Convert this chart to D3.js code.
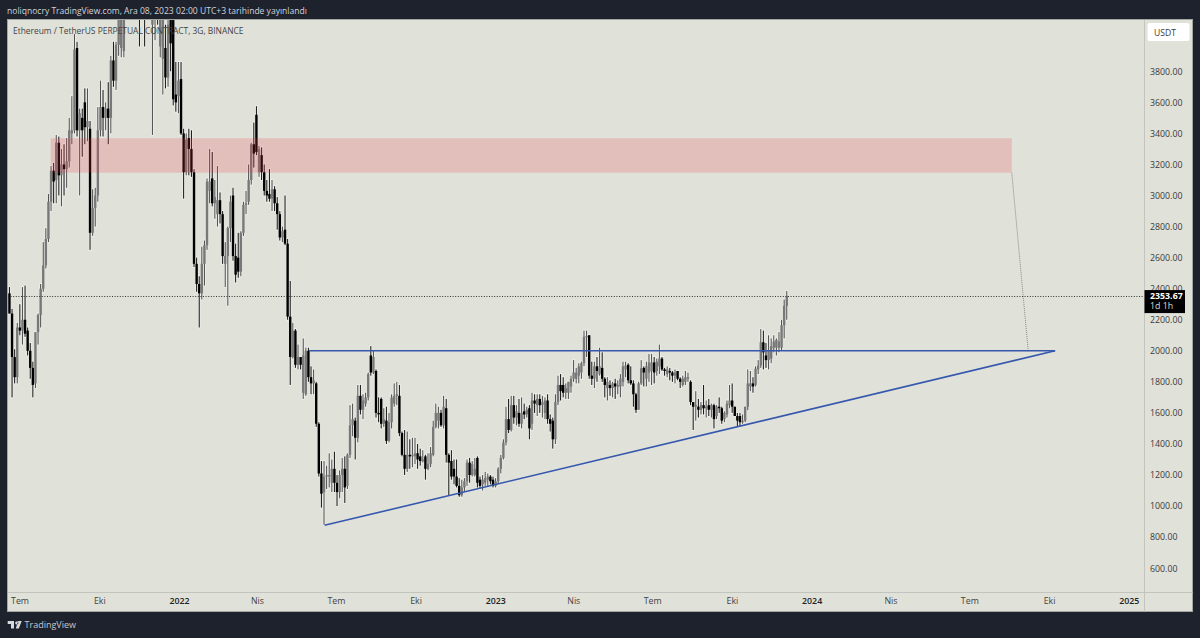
<!DOCTYPE html>
<html><head><meta charset="utf-8">
<script src="https://cdn.jsdelivr.net/npm/d3@7"></script>
<style>html,body{margin:0;padding:0;background:#1e222d;overflow:hidden}svg{display:block}text{font-family:"Open Sans",sans-serif}</style>
</head><body><svg id="c" width="1200" height="638"></svg>
<script>
const headerText = "noliqnocry TradingView.com, Ara 08, 2023 02:00 UTC+3 tarihinde yayınlandı";
const titleText = "Ethereum / TetherUS PERPETUAL CONTRACT, 3G, BINANCE";
const firstBar = "2021-06-19";
const barDays = 3;
const opens = [
2370,2240,1960,1830,2150,2130,2200,2130,2000,1890,
1790,2120,2230,2400,2550,2720,2960,3160,3100,3340,
3130,3200,3170,3220,3400,3420,3950,3420,3500,3600,
3440,3430,2760,2920,3000,3420,3570,3500,3560,3500,
3870,3740,3970,3950,3930,4300,4500,4600,4730,4600,
4400,4250,4550,4400,4500,4100,4200,4300,3960,3880,
3950,3760,4150,4130,3650,3640,3750,3400,3150,3370,
3300,3150,2560,2430,2370,2560,2680,3030,3110,2950,
2880,2970,2880,2560,2610,2790,3000,2610,2600,2510,
2760,2940,2960,3100,3330,3520,3150,3260,3150,3030,
3010,2980,3040,2950,2880,2730,2780,2690,2220,1960,
2130,1910,1960,1730,1720,2000,1830,1790,1790,1530,
1210,1090,1190,1190,1150,1240,1150,1090,1200,1240,
1130,1330,1520,1550,1440,1710,1620,1660,1700,1970,
1860,1870,1600,1690,1530,1550,1420,1540,1660,1710,
1710,1470,1330,1240,1330,1320,1320,1340,1320,1290,
1320,1240,1270,1330,1510,1550,1600,1520,1630,1330,
1290,1240,1190,1130,1070,1120,1160,1280,1200,1200,
1310,1170,1140,1150,1170,1190,1170,1130,1160,1240,
1310,1410,1560,1490,1650,1570,1600,1530,1610,1590,
1630,1530,1680,1650,1690,1650,1600,1680,1560,1550,
1430,1670,1780,1780,1730,1730,1770,1820,1820,1840,1860,
1920,2090,2100,1840,1820,1900,1850,1890,1820,1760,
1780,1760,1790,1770,1770,1800,1880,1910,1810,1790,
1720,1620,1790,1890,1820,1860,1870,1925,1870,1900,
1950,1880,1850,1870,1860,1840,1870,1820,1780,1800,
1820,1800,1670,1640,1640,1620,1650,1630,1650,1620,
1650,1580,1640,1630,1560,1590,1650,1680,1640,1580,
1580,1540,1550,1640,1770,1790,1780,1880,1905,2055,
1970,1940,1950,2020,2020,2020,2020,2165,2290];
const highs = [
2410,2270,2010,2180,2300,2410,2420,2150,2050,1930,
2120,2240,2430,2700,2790,3010,3190,3210,3390,3380,
3300,3330,3370,3500,3640,4040,3990,3560,3560,3690,
3690,3480,3040,3050,3570,3740,3680,3600,3730,3900,
3990,3990,4300,4400,4400,4700,4700,4870,4830,4700,
4600,4650,4780,4650,4600,4400,4400,4400,4250,4250,
4100,4200,4250,4160,3860,3860,3860,3430,3400,3430,
3420,3170,2600,2480,2670,2710,3110,3300,3280,3100,
3190,3020,2900,2700,2800,3000,3050,2690,2760,2770,
2960,3030,3200,3340,3470,3575,3320,3310,3200,3100,
3170,3100,3060,2990,2900,2800,3000,2720,2450,2180,
2140,2040,1960,2080,2020,2020,1900,1880,1800,1540,
1290,1290,1260,1340,1300,1350,1200,1230,1310,1320,
1340,1650,1660,1570,1780,1780,1720,1730,1860,2030,
2000,1880,1700,1700,1630,1640,1600,1720,1790,1800,
1780,1480,1490,1480,1430,1440,1440,1400,1370,1360,
1330,1340,1380,1550,1660,1640,1620,1710,1690,1340,
1360,1300,1300,1180,1170,1180,1300,1310,1290,1310,
1320,1190,1200,1220,1210,1200,1190,1180,1250,1330,
1430,1640,1690,1710,1710,1650,1690,1700,1660,1640,
1650,1730,1720,1720,1720,1710,1700,1720,1590,1570,
1720,1840,1850,1830,1790,1800,1840,1940,1890,1920,1930,
2130,2130,2100,1930,1930,1960,2020,1990,1830,1830,
1810,1800,1820,1810,1850,1930,1930,1920,1900,1810,
1730,1800,1940,1900,1930,1980,1980,1960,1950,2040,
1960,1890,1900,1890,1870,1880,1870,1830,1840,1870,
1860,1810,1670,1740,1690,1670,1780,1680,1690,1660,
1660,1650,1700,1640,1610,1680,1780,1790,1640,1600,
1600,1590,1640,1880,1870,1830,1900,1940,2140,2130,
2050,2100,2080,2100,2080,2120,2200,2330,2385];
const lows = [
2240,1700,1790,1790,2100,2040,2090,1970,1820,1700,
1760,2040,2150,2380,2530,2700,2900,2950,2950,3000,
2930,3000,3050,3180,3330,3400,3380,3000,3250,3330,
3350,2650,2740,2800,2960,3380,3380,3420,3330,3400,
3700,3680,3900,3890,3890,4150,4400,4400,4280,4200,
3960,4170,3960,4170,4200,3390,4000,4100,3890,3650,
3690,3700,3800,3580,3540,3530,3390,2980,3130,3130,
3120,2540,2380,2150,2330,2420,2650,2950,2930,2850,
2800,2820,2560,2410,2290,2700,2580,2440,2470,2480,
2740,2880,2940,3070,3180,3260,3120,3100,3000,2960,
2960,2900,2900,2780,2710,2700,2680,2200,1780,1950,
1890,1880,1880,1690,1710,1800,1720,1720,1510,1190,
990,880,1110,1120,1090,1090,1000,1050,1090,1020,
1110,1310,1450,1300,1410,1590,1560,1640,1680,1840,
1850,1570,1540,1500,1510,1400,1410,1500,1640,1650,
1450,1320,1200,1220,1240,1250,1270,1240,1260,1280,
1170,1230,1250,1320,1500,1500,1510,1500,1280,1070,
1170,1140,1120,1060,1060,1090,1130,1150,1190,1190,
1120,1110,1100,1130,1130,1140,1120,1120,1140,1210,
1300,1390,1470,1480,1530,1520,1510,1500,1560,1570,
1430,1490,1600,1580,1600,1570,1560,1530,1480,1370,
1400,1650,1680,1700,1690,1690,1730,1800,1790,1790,1820,
1900,1960,1820,1780,1760,1800,1840,1800,1700,1680,
1710,1700,1690,1720,1700,1770,1830,1790,1780,1640,
1600,1620,1780,1770,1770,1800,1780,1790,1840,1850,
1870,1840,1830,1810,1800,1790,1810,1760,1770,1780,
1800,1650,1490,1550,1570,1590,1590,1570,1580,1570,
1500,1560,1600,1530,1540,1570,1630,1600,1580,1513,
1510,1530,1540,1617,1740,1730,1770,1850,1890,1880,
1890,1880,1920,1990,1970,1990,2000,2080,2200];
const closes = [
2240,1960,1830,2150,2130,2200,2110,2000,1890,1780,
2120,2230,2400,2550,2720,2960,3160,3090,3340,3130,
3200,3170,3220,3420,3420,3940,3420,3530,3420,3440,
3480,2760,2920,3000,3420,3570,3500,3560,3500,3870,
3740,3970,4280,4200,4180,4500,4600,4730,4600,4400,
4250,4550,4400,4500,4350,4200,4300,4150,4150,4200,
3760,4100,3980,3620,3600,3740,3400,3150,3360,3300,
3150,2560,2430,2370,2560,2680,3090,3090,2950,2990,
2970,2880,2610,2610,2790,2960,2610,2490,2510,2760,
2940,2950,3100,3330,3270,3280,3300,3150,3030,3000,
2980,3040,2950,2880,2730,2770,2690,2220,1960,2130,
1910,1960,1910,1970,2000,1830,1790,1810,1530,1210,
1080,1190,1200,1200,1240,1150,1090,1200,1240,1120,
1330,1520,1560,1440,1710,1620,1680,1700,1850,1860,
1960,1600,1590,1530,1560,1420,1540,1700,1710,1720,
1470,1330,1240,1330,1320,1330,1340,1300,1290,1300,
1240,1270,1340,1510,1600,1600,1520,1640,1330,1280,
1190,1190,1130,1070,1120,1160,1280,1200,1270,1240,
1150,1130,1170,1180,1190,1160,1130,1160,1240,1310,
1410,1560,1490,1650,1570,1610,1530,1600,1590,1620,
1500,1680,1660,1690,1650,1670,1680,1560,1530,1430,
1670,1780,1740,1730,1760,1800,1820,1860,1860,1900,1920,
2090,2095,1840,1820,1900,1870,1900,1820,1780,1800,
1760,1790,1770,1780,1820,1900,1905,1810,1790,1720,
1620,1790,1887,1860,1900,1925,1925,1860,1930,1950,
1880,1870,1880,1860,1840,1860,1820,1800,1820,1830,
1830,1670,1640,1650,1620,1650,1630,1640,1620,1650,
1560,1640,1630,1550,1600,1660,1680,1640,1580,1550,
1540,1550,1640,1790,1790,1770,1885,1905,2055,1990,
1940,2000,2030,2060,2070,2060,2165,2290,2353.67];
const priceTicks = [600,800,1000,1200,1400,1600,1800,2000,2200,2400,2600,2800,3000,3200,3400,3600,3800];
const timeTickDates = ["2021-07-01","2021-10-01","2022-01-01","2022-04-01","2022-07-01","2022-10-01","2023-01-01","2023-04-01","2023-07-01","2023-10-01","2024-01-01","2024-04-01","2024-07-01","2024-10-01","2025-01-01"];
const timeTickLabels = ["Tem","Eki","2022","Nis","Tem","Eki","2023","Nis","Tem","Eki","2024","Nis","Tem","Eki","2025"];
const zoneDates = ["2021-08-06","2024-08-19"], zonePrices = [3369,3147];
const flatLineDates = ["2022-05-31","2024-10-08"], flatLinePrices = [2000,2000];
const riseLineDates = ["2022-06-18","2024-10-08"], riseLinePrices = [876,2000];
const dropLineDates = ["2024-08-19","2024-09-07"], dropLinePrices = [3147,2000];
const lastPrice = 2353.67, lastLabel = "2353.67", lastCountdown = "1d 1h";

const P = d3.timeParse("%Y-%m-%d");
const L=8, T=20, R=1144, B=592, RE=1192.5, BE=611.5;
const x = d3.scaleTime().domain([P("2022-01-01"),P("2024-01-01")]).range([179,811.6]);
const y = d3.scaleLinear().domain([2000,3800]).range([350.8,71.3]);
const svg = d3.select("#c");
const bg="#e0e1d9", ink="#3a3a3a";
svg.append("rect").attr("width",1200).attr("height",638).attr("fill","#1e222d");
svg.append("rect").attr("x",L-.5).attr("y",T-.5).attr("width",RE-L+.5).attr("height",BE-T+.5).attr("fill",bg).attr("stroke","#a4a6a3");
svg.append("defs").append("clipPath").attr("id","plot").append("rect").attr("x",L).attr("y",T).attr("width",R-L).attr("height",B-T);
const plot = svg.append("g").attr("clip-path","url(#plot)");
const dates = opens.map((_,i)=>d3.timeDay.offset(P(firstBar),i*barDays));
const bars = dates.map((d,i)=>({d,o:opens[i],h:highs[i],l:lows[i],c:closes[i]}));
const col = b=>b.c>=b.o?"#787878":"#000";
plot.append("g").selectAll("line").data(bars).join("line")
  .attr("x1",b=>x(b.d)+.3).attr("x2",b=>x(b.d)+.3)
  .attr("y1",b=>y(b.h)-1).attr("y2",b=>y(b.l)+1)
  .attr("stroke","#fff").attr("stroke-opacity",.45).attr("stroke-width",2.6);
plot.append("g").selectAll("line").data(bars).join("line")
  .attr("x1",b=>x(b.d)+.3).attr("x2",b=>x(b.d)+.3)
  .attr("y1",b=>y(b.h)).attr("y2",b=>y(b.l))
  .attr("stroke",b=>b.c>=b.o?"#4a4a4a":"#111").attr("stroke-width",1);
plot.append("g").selectAll("rect").data(bars).join("rect")
  .attr("x",b=>x(b.d)-.9).attr("width",2.4)
  .attr("y",b=>y(Math.max(b.o,b.c))).attr("height",b=>Math.max(1.2,Math.abs(y(b.o)-y(b.c))))
  .attr("fill",col);
plot.append("rect").attr("x",x(P(zoneDates[0]))).attr("width",x(P(zoneDates[1]))-x(P(zoneDates[0])))
  .attr("y",y(zonePrices[0])).attr("height",y(zonePrices[1])-y(zonePrices[0]))
  .attr("fill","#f23645").attr("fill-opacity",.2);
const seg=(ds,ps)=>d3.line()(ds.map((d,i)=>[x(P(d)),y(ps[i])]));
plot.append("path").attr("d",seg(dropLineDates,dropLinePrices)).attr("stroke","#8a8a86").attr("stroke-width",1).attr("stroke-dasharray","1 1").attr("fill","none");
plot.append("path").attr("d",seg(flatLineDates,flatLinePrices)).attr("stroke","#3557ae").attr("stroke-width",1.6).attr("fill","none");
plot.append("path").attr("d",seg(riseLineDates,riseLinePrices)).attr("stroke","#3557ae").attr("stroke-width",1.6).attr("fill","none");
plot.append("line").attr("x1",L).attr("x2",R).attr("y1",296.5).attr("y2",296.5).attr("stroke","#333").attr("stroke-dasharray","1 1.6");
svg.append("line").attr("x1",R+.5).attr("x2",R+.5).attr("y1",T).attr("y2",BE).attr("stroke","#c3c4bd");
svg.append("line").attr("x1",L).attr("x2",RE).attr("y1",B+.5).attr("y2",B+.5).attr("stroke","#c3c4bd");
// price axis
const ya = svg.append("g").attr("transform",`translate(${R},0)`)
  .call(d3.axisRight(y).tickValues(priceTicks).tickFormat(d3.format(".2f")).tickSize(0).tickPadding(6));
ya.select(".domain").remove();
ya.selectAll("text").attr("fill",ink).attr("font-size",8.8).style("font-family",'"Open Sans"');
// time axis
const xa = svg.append("g").attr("transform",`translate(0,${B})`)
  .call(d3.axisBottom(x).tickValues(timeTickDates.map(P)).tickFormat((d,i)=>timeTickLabels[i]).tickSize(0).tickPadding(6));
xa.select(".domain").remove();
xa.selectAll("text").attr("fill",(d,i)=>/^\d/.test(timeTickLabels[i])?"#222":"#444")
  .attr("font-weight",(d,i)=>/^\d/.test(timeTickLabels[i])?600:400).attr("font-size",8.8).style("font-family",'"Open Sans"');
// USDT box
svg.append("rect").attr("x",1147.5).attr("y",23).attr("width",42).attr("height",18).attr("rx",2).attr("fill","#fff");
svg.append("text").attr("x",1154).attr("y",35.5).attr("font-size",8.6).attr("fill",ink).text("USDT");
// last price tag
svg.append("rect").attr("x",R+.5).attr("y",y(lastPrice)-5.8).attr("width",40.5).attr("height",23).attr("fill","#000");
svg.append("text").attr("x",1150).attr("y",y(lastPrice)+3).attr("font-size",8.8).attr("font-weight",700).attr("fill","#fff").text(lastLabel);
svg.append("text").attr("x",1150).attr("y",y(lastPrice)+13.5).attr("font-size",8.8).attr("fill","#ddd").text(lastCountdown);
// header, title, footer
svg.append("text").attr("x",7).attr("y",13.8).attr("font-size",8.55).attr("fill","#d1d4dc").text(headerText);
svg.append("text").attr("x",13).attr("y",33.5).attr("font-size",8.42).attr("fill","#444").text(titleText);
svg.append("path").attr("d","M7.7 621h6.3v7.6h-3v-4.5H7.7zM15.2 623a1.6 1.6 0 1 0 0-.01zM15.8 628.6l2.4-7.6h3.5l-2.9 7.6z").attr("fill","#d8dae0");
svg.append("text").attr("x",24.5).attr("y",628.3).attr("font-size",9).attr("fill","#c4c7cf").text("TradingView");
</script></body></html>
